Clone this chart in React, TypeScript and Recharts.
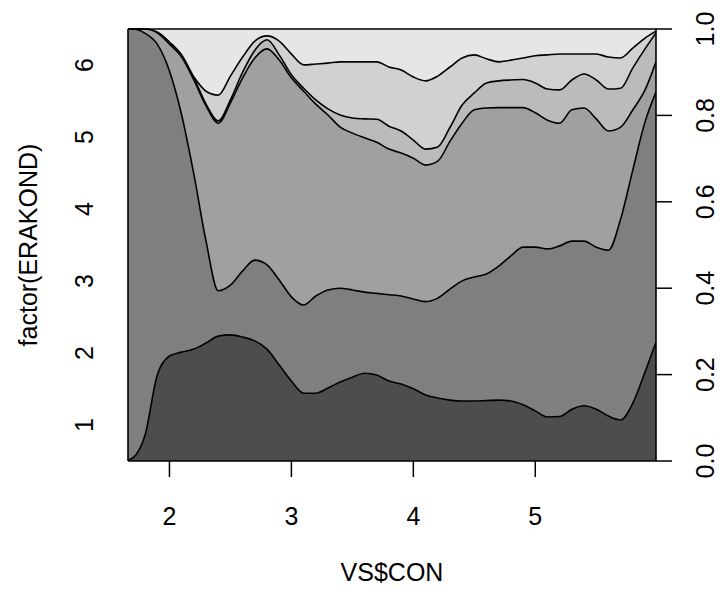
import { Area, AreaChart, Label, ReferenceLine, XAxis, YAxis } from "recharts";

const conValues = [
  1.66, 1.7, 1.8, 1.9, 2.0, 2.1, 2.2, 2.3, 2.4, 2.5, 2.6, 2.7, 2.8, 2.9, 3.0,
  3.1, 3.2, 3.3, 3.4, 3.5, 3.6, 3.7, 3.8, 3.9, 4.0, 4.1, 4.2, 4.3, 4.4, 4.5,
  4.6, 4.7, 4.8, 4.9, 5.0, 5.1, 5.2, 5.3, 5.4, 5.5, 5.6, 5.7, 5.8, 5.9, 5.99,
];
const cumLevel1 = [
  0.002, 0.007, 0.06, 0.199, 0.243, 0.252, 0.259, 0.273, 0.289, 0.292, 0.287,
  0.278, 0.259, 0.222, 0.185, 0.157, 0.157, 0.169, 0.183, 0.194, 0.203, 0.199,
  0.185, 0.178, 0.167, 0.153, 0.146, 0.141, 0.139, 0.139, 0.14, 0.141, 0.139,
  0.13, 0.116, 0.102, 0.103, 0.12, 0.128, 0.12, 0.104, 0.095, 0.134, 0.206, 0.275,
];
const cumLevel2 = [
  1, 1, 0.99, 0.965, 0.903, 0.801, 0.664, 0.509, 0.394, 0.407, 0.44, 0.465,
  0.454, 0.419, 0.38, 0.361, 0.382, 0.396, 0.4, 0.396, 0.391, 0.388, 0.385,
  0.382, 0.375, 0.369, 0.377, 0.398, 0.417, 0.426, 0.433, 0.451, 0.475, 0.495,
  0.495, 0.491, 0.498, 0.509, 0.509, 0.495, 0.488, 0.56, 0.674, 0.785, 0.854,
];
const cumLevel3 = [
  1, 1, 1, 0.991, 0.965, 0.935, 0.882, 0.822, 0.782, 0.829, 0.887, 0.933, 0.954,
  0.928, 0.887, 0.856, 0.826, 0.801, 0.773, 0.759, 0.748, 0.738, 0.722, 0.713,
  0.701, 0.685, 0.694, 0.74, 0.782, 0.813, 0.817, 0.818, 0.818, 0.818, 0.806,
  0.789, 0.782, 0.813, 0.817, 0.792, 0.764, 0.773, 0.813, 0.859, 0.924,
];
const cumLevel4 = [
  1, 1, 1, 0.993, 0.97, 0.94, 0.887, 0.826, 0.787, 0.836, 0.9, 0.951, 0.975,
  0.94, 0.894, 0.863, 0.836, 0.815, 0.801, 0.794, 0.792, 0.791, 0.775, 0.764,
  0.743, 0.722, 0.727, 0.772, 0.824, 0.852, 0.875, 0.88, 0.882, 0.883, 0.875,
  0.861, 0.859, 0.882, 0.896, 0.882, 0.861, 0.863, 0.91, 0.954, 0.991,
];
const cumLevel5 = [
  1, 1, 0.997, 0.979, 0.961, 0.935, 0.889, 0.856, 0.847, 0.891, 0.935, 0.972,
  0.984, 0.972, 0.942, 0.917, 0.919, 0.921, 0.924, 0.924, 0.924, 0.924, 0.912,
  0.905, 0.889, 0.88, 0.891, 0.912, 0.933, 0.94, 0.931, 0.924, 0.928, 0.933,
  0.938, 0.94, 0.942, 0.942, 0.942, 0.942, 0.935, 0.933, 0.956, 0.979, 0.995,
];

const xTicks = [2, 3, 4, 5];
const levelLabels = ["1", "2", "3", "4", "5", "6"];
const propTicks = [0, 0.2, 0.4, 0.6, 0.8, 1];
const propLabels = ["0.0", "0.2", "0.4", "0.6", "0.8", "1.0"];
const levelColors = ["#4D4D4D", "#7F7F7F", "#A0A0A0", "#BBBBBB", "#D1D1D1", "#E6E6E6"];

const data = conValues.map((x, i) => ({
  x,
  l1: cumLevel1[i],
  l2: cumLevel2[i],
  l3: cumLevel3[i],
  l4: cumLevel4[i],
  l5: cumLevel5[i],
  l6: 1,
}));

// levels spaced evenly on the left axis, as cdplot does when bands are too thin at the edge
const levelTickPos = levelLabels.map((_, i) => (2 * i + 1) / (2 * levelLabels.length));

const font = "'Liberation Sans', Arial, Helvetica, sans-serif";
const fs = 25;

function Rotated({ cx, cy, text }: { cx: number; cy: number; text: string }) {
  return (
    <text
      x={cx}
      y={cy}
      transform={`rotate(-90 ${cx} ${cy})`}
      textAnchor="middle"
      dominantBaseline="central"
      fontFamily={font}
      fontSize={fs}
      fill="#000"
    >
      {text}
    </text>
  );
}

function levelLabelFor(v: number) {
  const i = Math.round((v * 2 * levelLabels.length - 1) / 2);
  return levelLabels[i] ?? "";
}

export default function App() {
  const areaKeys = ["l6", "l5", "l4", "l3", "l2", "l1"];
  return (
    <div style={{ position: "absolute", left: 0, top: 0, width: 721, height: 590, background: "#fff" }}>
      <AreaChart width={721} height={590} data={data} margin={{ top: 29, right: 0, bottom: 0, left: 0 }}>
        <XAxis
          dataKey="x"
          type="number"
          domain={[1.66, 5.99]}
          ticks={xTicks}
          allowDataOverflow
          height={129}
          axisLine={false}
          tickSize={16}
          tickLine={{ stroke: "#000", strokeWidth: 1.5 }}
          tick={({ x, payload }: any) => (
            <text x={x} y={516} textAnchor="middle" dominantBaseline="central" fontFamily={font} fontSize={fs} fill="#000">
              {payload.value}
            </text>
          )}
        >
          <Label
            content={() => (
              <text x={392} y={572} textAnchor="middle" dominantBaseline="central" fontFamily={font} fontSize={fs} fill="#000">
                VS$CON
              </text>
            )}
          />
        </XAxis>
        <YAxis
          yAxisId="f"
          orientation="left"
          type="number"
          domain={[0, 1]}
          ticks={levelTickPos}
          interval={0}
          width={128}
          axisLine={false}
          tickLine={false}
          tick={({ y, payload }: any) => <Rotated cx={84} cy={y} text={levelLabelFor(payload.value)} />}
        >
          <Label content={() => <Rotated cx={28} cy={245} text="factor(ERAKOND)" />} />
        </YAxis>
        <YAxis
          yAxisId="p"
          orientation="right"
          type="number"
          domain={[0, 1]}
          ticks={propTicks}
          interval={0}
          width={65}
          axisLine={false}
          tickSize={16}
          tickLine={{ stroke: "#000", strokeWidth: 1.5 }}
          tick={({ y, index }: any) => <Rotated cx={705} cy={y} text={propLabels[index]} />}
        />
        <Area
          yAxisId="f"
          dataKey="l6"
          type="monotone"
          fill="none"
          stroke="none"
          isAnimationActive={false}
          activeDot={false}
          dot={false}
        />
        {areaKeys.map((k) => (
          <Area
            key={k}
            yAxisId="p"
            dataKey={k}
            type="monotone"
            fill={levelColors[Number(k[1]) - 1]}
            fillOpacity={1}
            stroke={k === "l6" ? "none" : "#000"}
            strokeWidth={1.6}
            isAnimationActive={false}
            activeDot={false}
            dot={false}
          />
        ))}
        <ReferenceLine yAxisId="p" x={1.66} stroke="#000" strokeWidth={1.6} />
        <ReferenceLine yAxisId="p" x={5.99} stroke="#000" strokeWidth={1.6} />
        <ReferenceLine yAxisId="p" y={0} stroke="#000" strokeWidth={1.6} />
        <ReferenceLine yAxisId="p" y={1} stroke="#000" strokeWidth={1.6} />
      </AreaChart>
    </div>
  );
}
